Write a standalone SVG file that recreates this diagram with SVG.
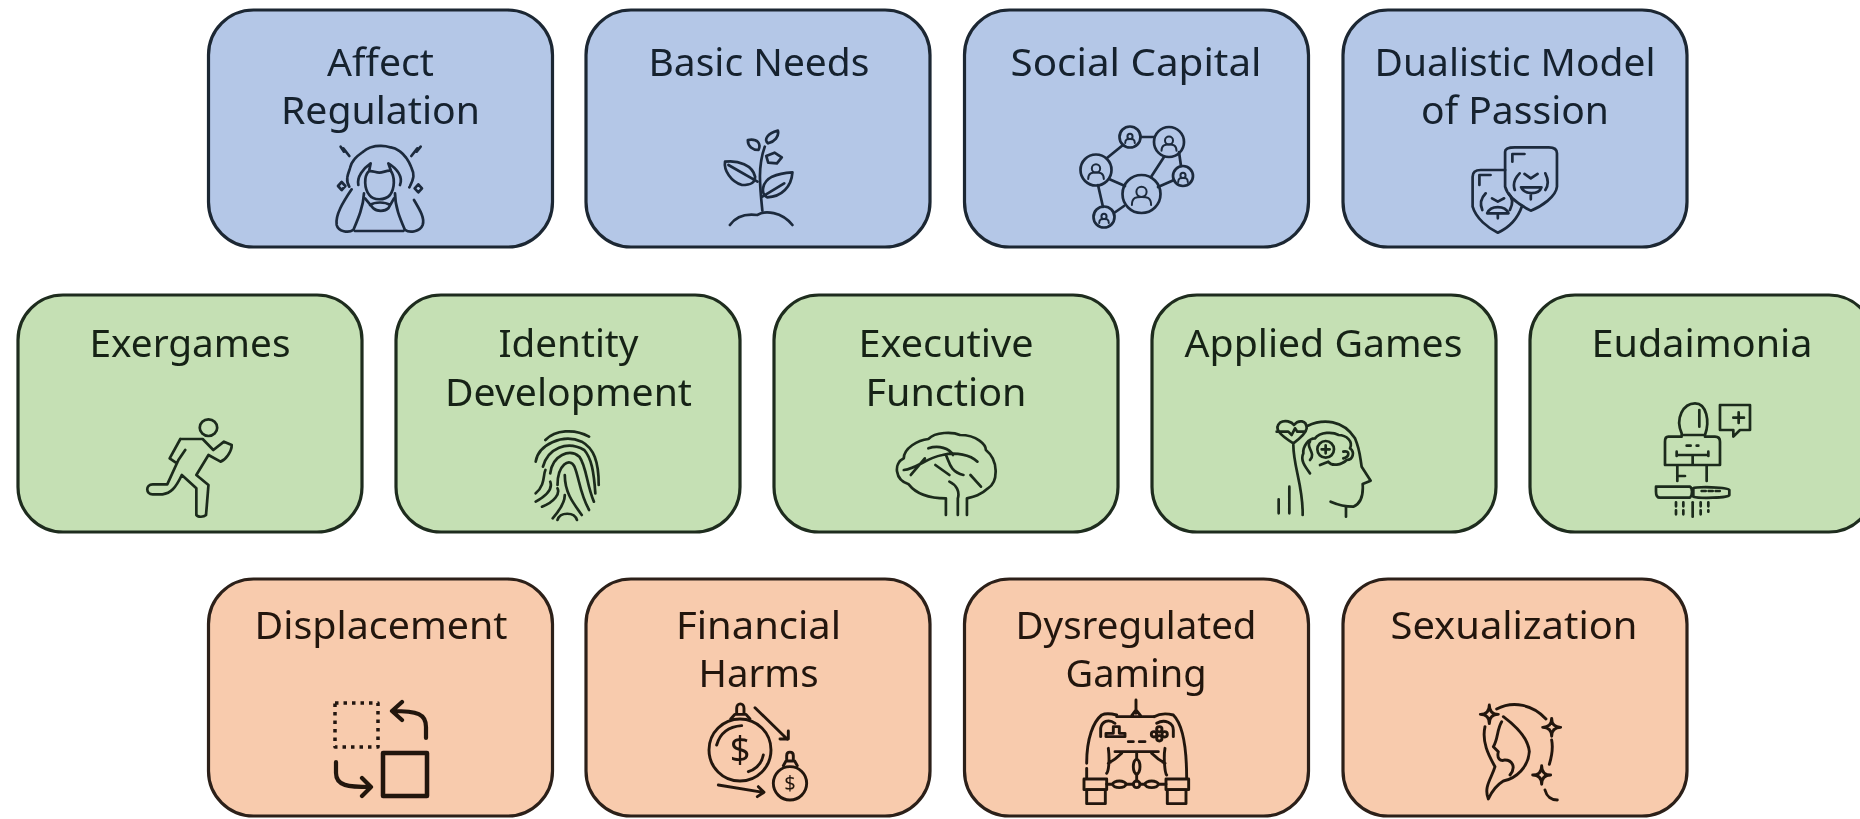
<svg xmlns="http://www.w3.org/2000/svg" width="1860" height="819" viewBox="0 0 1860 819">
<style>
.box{stroke-width:3.200}
.blue .box{fill:#b4c7e7;stroke:#1c2733}
.green .box{fill:#c5e0b4;stroke:#1e2c1e}
.orange .box{fill:#f8cbad;stroke:#2c2019}
text{font-family:"Noto Sans","Open Sans","Liberation Sans",sans-serif;font-size:39px;text-anchor:middle;filter:url(#txt);lengthAdjust:spacingAndGlyphs}
.blue text{fill:#14202f}
.green text{fill:#152315}
.orange text{fill:#21140d}
.i{fill:none;stroke-width:2.700;stroke-linecap:round;stroke-linejoin:round;filter:url(#soft)}
.i *{vector-effect:non-scaling-stroke}
.blue .i{stroke:#1c2a3d}
.green .i{stroke:#1b2c1b}
.orange .i{stroke:#24160e;stroke-width:2.900}
.i text{stroke:none;filter:none}
.blue .i text{fill:#1c2a3d}
.orange .i text{fill:#24160e}
</style>
<defs>
<filter id="soft" x="-10%" y="-10%" width="120%" height="120%"><feGaussianBlur stdDeviation="0.55"/></filter>
<filter id="txt" x="-5%" y="-10%" width="110%" height="120%"><feGaussianBlur stdDeviation="0.35"/></filter>
<g id="p"><circle cx="0" cy="-0.2" r="0.32" vector-effect="non-scaling-stroke" fill="none" stroke-width="2"/><path d="M-0.6 0.62C-0.6 0.1-0.25 0.12 0 0.12C0.25 0.12 0.6 0.1 0.6 0.62" vector-effect="non-scaling-stroke" fill="none" stroke-width="2"/></g>
</defs>
<rect width="1860" height="819" fill="#fff"/>

<g id="affect-regulation" class="blue">
<rect class="box" x="208.500" y="10" width="344" height="237" rx="45"/>
<text x="380.500" y="76" textLength="107" lengthAdjust="spacingAndGlyphs">Affect</text><text x="380.500" y="124" textLength="199" lengthAdjust="spacingAndGlyphs">Regulation</text>
<g class="i" transform="translate(320,130) scale(.3333)">
<path stroke-dasharray="9 1" d="M88 170C75 150 85 130 90 115C95 90 115 75 130 65C150 45 190 45 210 52C240 55 265 85 275 115C285 135 280 150 268 172"/>
<path d="M145 125C155 120 165 128 178 128C190 128 200 120 212 122C225 140 225 175 210 195C195 212 160 212 148 195C132 175 132 140 145 125Z"/>
<path d="M115 165C110 140 130 115 152 100L148 120M240 165C250 140 230 115 205 100L212 120"/>
<path d="M95 178C70 215 45 255 50 285C55 305 85 310 100 300C115 265 130 230 132 190M282 210C300 240 315 265 308 285C300 305 270 310 255 300C240 265 225 230 225 190M105 303H250"/>
<path d="M135 205L160 235C170 245 195 245 205 235L222 205M150 225C165 215 195 215 210 225"/>
<path d="M62 50L72 65L70 55L88 78M302 50L290 65L292 55L274 78"/>
<path d="M65 156L76 168L65 180L54 168ZM295 163L306 175L295 187L284 175Z"/>
</g>
</g>

<g id="basic-needs" class="blue">
<rect class="box" x="586" y="10" width="344" height="237" rx="45"/>
<text x="759" y="76" textLength="221" lengthAdjust="spacingAndGlyphs">Basic Needs</text>
<g class="i" transform="translate(200,0) scale(.4848,.3333)">
<path d="M1160 632C1155 560 1150 500 1165 440"/>
<path d="M1083 485C1110 480 1140 495 1145 530C1145 550 1135 555 1118 555C1095 545 1080 510 1083 485ZM1090 495L1150 545"/>
<path d="M1222 517C1220 560 1200 590 1170 592C1155 580 1160 545 1180 530C1195 520 1210 518 1222 517ZM1160 590L1205 550"/>
<path d="M1192 392C1195 410 1185 425 1172 430C1162 420 1170 400 1192 392ZM1130 420C1150 415 1158 430 1152 450C1140 450 1130 440 1130 420ZM1168 468L1185 458L1200 472L1190 490L1172 488Z"/>
<path d="M1093 675C1105 650 1125 640 1150 645C1165 630 1200 635 1222 675"/>
</g>
</g>

<g id="social-capital" class="blue">
<rect class="box" x="964.500" y="10" width="344" height="237" rx="45"/>
<text x="1136" y="76" textLength="251" lengthAdjust="spacingAndGlyphs">Social Capital</text>
<g class="i">
<path d="M1140.500 137H1154M1123 145L1107 158M1164 157L1151 177M1179 152L1181 166M1109 179L1125 186M1098 185L1103 207M1114 213L1124 206M1158 187L1174 180"/>
<circle cx="1130" cy="137" r="10.500"/><circle cx="1169" cy="142" r="15"/><circle cx="1096" cy="170" r="15.500"/><circle cx="1141.500" cy="194" r="19"/><circle cx="1183" cy="176" r="10"/><circle cx="1104" cy="217" r="10.500"/>
<use href="#p" transform="translate(1130,138) scale(8)"/><use href="#p" transform="translate(1169,143) scale(12.500)"/><use href="#p" transform="translate(1096,171) scale(13)"/><use href="#p" transform="translate(1141.500,195) scale(16)"/><use href="#p" transform="translate(1183,177) scale(8)"/><use href="#p" transform="translate(1104,218) scale(8)"/>
</g>
</g>

<g id="dualistic-model" class="blue">
<rect class="box" x="1343" y="10" width="344" height="237" rx="45"/>
<text x="1515" y="76" textLength="281" lengthAdjust="spacingAndGlyphs">Dualistic Model</text><text x="1515" y="124" textLength="188" lengthAdjust="spacingAndGlyphs">of Passion</text>
<g class="i" transform="translate(950,0) scale(.4848,.3333)">
<path d="M1145 455C1145 445 1155 442 1165 442H1235C1248 442 1252 450 1252 460V560C1250 590 1220 620 1198 632C1175 615 1150 590 1145 560Z"/>
<path d="M1145 510H1095C1082 510 1078 520 1078 530V620C1085 655 1110 685 1130 698C1150 685 1170 660 1180 618"/>
<path d="M1160 485V462H1185M1092 555V525H1115"/>
<path d="M1175 520C1165 535 1160 550 1165 570M1228 520C1235 540 1235 555 1228 570M1178 562H1220C1215 585 1185 585 1178 562ZM1198 585V598M1185 522L1198 535L1212 522"/>
<path d="M1105 580C1095 595 1092 610 1098 630M1152 580C1162 595 1162 610 1155 630M1108 640C1115 615 1145 615 1152 640ZM1118 595L1130 605L1143 595M1130 640V655"/>
</g>
</g>

<g id="exergames" class="green">
<rect class="box" x="18" y="295" width="344" height="237" rx="45"/>
<text x="190" y="357" textLength="201" lengthAdjust="spacingAndGlyphs">Exergames</text>
<g class="i" transform="translate(0,285) scale(.4848,.3333)">
<ellipse cx="430" cy="428" rx="18" ry="25"/>
<path d="M372 462H418L440 495L462 470L478 480C478 500 465 525 455 530L430 510L405 570L430 600L425 690C420 697 408 697 405 690L405 610L375 570C362 610 352 625 335 628H315C300 628 300 598 315 598H345L368 525L382 495M372 462L350 520L365 535"/>
</g>
</g>

<g id="identity-development" class="green">
<rect class="box" x="396" y="295" width="344" height="237" rx="45"/>
<text x="568.500" y="357" textLength="140" lengthAdjust="spacingAndGlyphs">Identity</text><text x="568.500" y="406" textLength="247" lengthAdjust="spacingAndGlyphs">Development</text>
<g class="i" transform="translate(0,285) scale(.4848,.3333)">
<path d="M1125 465C1145 435 1185 430 1215 455M1105 530C1110 480 1160 445 1200 470C1225 490 1235 530 1235 600M1120 545C1130 490 1170 465 1205 495C1220 520 1225 560 1228 625M1135 565C1140 510 1175 490 1195 515C1210 545 1210 600 1225 650M1150 600C1150 540 1175 515 1185 545C1195 580 1195 620 1215 675M1165 570C1165 620 1180 650 1200 690M1105 625C1125 600 1120 570 1125 555M1105 650C1130 630 1140 610 1135 590M1118 665C1145 650 1155 625 1150 610M1140 700C1155 675 1165 650 1165 630M1150 705C1155 680 1185 680 1190 705"/>
</g>
</g>

<g id="executive-function" class="green">
<rect class="box" x="774" y="295" width="344" height="237" rx="45"/>
<text x="946" y="357" textLength="175" lengthAdjust="spacingAndGlyphs">Executive</text><text x="946" y="406" textLength="161" lengthAdjust="spacingAndGlyphs">Function</text>
<g class="i" transform="translate(760,285) scale(.7015,.3333)">
<path d="M265 690V640C240 640 222 625 212 598C192 585 190 535 205 520C205 490 225 465 240 462C250 440 275 440 285 450C310 450 322 480 322 495C340 525 340 590 325 610C315 630 305 635 295 640V690M282 690V640C285 620 280 600 270 590"/>
<path d="M205 555C225 550 235 520 260 510C280 500 300 510 310 530M215 570L235 520M250 540L270 570M265 510C270 530 270 560 290 570M300 570L315 605M240 490C255 480 270 490 275 510"/>
</g>
</g>

<g id="applied-games" class="green">
<rect class="box" x="1152" y="295" width="344" height="237" rx="45"/>
<text x="1323.500" y="357" textLength="278" lengthAdjust="spacingAndGlyphs">Applied Games</text>
<g class="i" transform="translate(1260,410) scale(.3333)">
<path d="M142 48C190 25 250 30 285 85C300 120 300 140 305 170L332 212L308 222C310 250 305 280 280 290C255 290 235 285 212 275M258 290V320M100 105C100 170 130 230 128 315M56 268V310M88 230V310"/>
<path d="M100 100C60 75 40 55 60 38C75 28 95 35 102 45C115 28 140 30 140 55C138 70 120 85 100 100ZM50 65H85L95 75L105 55L112 65H135"/>
<path d="M150 190C135 170 120 150 130 130C128 110 145 85 165 85C180 65 220 65 235 75C260 75 280 95 270 115C285 125 280 150 260 150C245 165 215 170 205 155L180 165"/>
<circle cx="197" cy="118" r="25"/><path d="M185 118H209M197 106V130M150 95C135 110 170 130 150 150M250 125C270 120 270 140 250 145"/>
</g>
</g>

<g id="eudaimonia" class="green">
<rect class="box" x="1530" y="295" width="344" height="237" rx="45"/>
<text x="1702" y="357" textLength="221" lengthAdjust="spacingAndGlyphs">Eudaimonia</text>
<g class="i" transform="translate(1640,395) scale(.3333)">
<path d="M125 115C105 70 130 25 165 25C200 25 210 80 195 120H125ZM178 45V95"/>
<path d="M125 125H85C78 125 75 130 75 140V210H240V140C240 130 235 125 225 125H195M110 180H205M110 170V183M205 170V183M158 183V210"/>
<path stroke-dasharray="4 6" d="M140 152H175"/>
<path d="M112 212V258M112 243H135M200 212V258"/>
<path d="M48 275H150C158 280 158 300 150 308H60C50 308 48 300 48 290ZM160 280C165 275 265 275 268 285V300C265 310 175 310 160 305Z"/>
<path stroke-dasharray="4 3" d="M185 288H245"/>
<path stroke-dasharray="4 4" d="M108 322V370M130 322V370M182 322V360M205 322V350"/><path d="M158 322V365"/>
<path d="M240 30H330V105H300L280 125V105H240ZM280 68H312M296 52V84"/>
</g>
</g>

<g id="displacement" class="orange">
<rect class="box" x="208.500" y="579" width="344" height="237" rx="45"/>
<text x="381" y="639" textLength="253" lengthAdjust="spacingAndGlyphs">Displacement</text>
<g class="i">
<rect x="335" y="703" width="43" height="44" style="stroke-width:3.500;stroke-dasharray:3.500 5;stroke-linecap:butt"/>
<rect x="383" y="753" width="44" height="43" style="stroke-width:4.500"/>
<path style="stroke-width:4.200" d="M426 738V727C426 714 418 711 392 711M402 702L392 711L402 720M336 762V773C336 786 348 787 371 787M362 778L371 787L362 796"/>
</g>
</g>

<g id="financial-harms" class="orange">
<rect class="box" x="586" y="579" width="344" height="237" rx="45"/>
<text x="758.500" y="639" textLength="165" lengthAdjust="spacingAndGlyphs">Financial</text><text x="758.500" y="687" textLength="120" lengthAdjust="spacingAndGlyphs">Harms</text>
<g class="i">
<g transform="translate(700,695) scale(.3333)">
<circle cx="120" cy="165" r="93"/>
<path d="M50 150C60 115 85 95 125 92M145 230C170 222 185 205 190 180"/>
<path d="M92 72L105 58H138L150 72M110 55V40C110 22 132 22 132 40V55"/>
<circle cx="270" cy="265" r="50"/>
<path d="M250 212L258 198H284L292 212M260 195V182C260 168 280 168 280 182V195"/>
<path d="M165 38L262 133M240 132H265V108M55 270L190 292M175 275L192 292L172 305"/>
</g>
<text x="740" y="762" style="font-size:36px">$</text>
<text x="790" y="790" style="font-size:20px">$</text>
</g>
</g>

<g id="dysregulated-gaming" class="orange">
<rect class="box" x="964.500" y="579" width="344" height="237" rx="45"/>
<text x="1136" y="639" textLength="241" lengthAdjust="spacingAndGlyphs">Dysregulated</text><text x="1136" y="687" textLength="141" lengthAdjust="spacingAndGlyphs">Gaming</text>
<g class="i" transform="translate(1080,695) scale(.3333)">
<path d="M168 15V55M155 62L168 45L182 62M110 65H222"/>
<path d="M110 60C90 55 75 55 65 60C40 80 20 130 20 205M222 65C240 55 260 55 280 60C305 85 320 140 320 250M20 220V250"/>
<path d="M105 85C85 70 65 80 62 100V125M230 85C255 70 280 85 280 105V125"/>
<path d="M78 115H100V95H118V115H135V125H78Z"/>
<circle cx="238" cy="103" r="8"/><circle cx="222" cy="118" r="8"/><circle cx="254" cy="118" r="8"/><circle cx="238" cy="130" r="8"/>
<path d="M145 140H160M178 140H195M105 170H235M125 175C110 190 95 200 85 205M85 160C90 200 85 230 80 235M215 175C230 190 245 200 255 205M255 160C250 190 255 235 260 240M170 175V193M170 237V258"/>
<ellipse cx="170" cy="215" rx="10" ry="22"/>
<ellipse cx="118" cy="268" rx="20" ry="10"/><circle cx="170" cy="268" r="10"/><ellipse cx="215" cy="268" rx="20" ry="10"/>
<path d="M80 268H98M138 268H160M180 268H195M235 268H258"/>
<rect x="12" y="252" width="68" height="32"/><rect x="20" y="284" width="56" height="42"/>
<rect x="258" y="252" width="68" height="32"/><rect x="262" y="284" width="56" height="42"/>
</g>
</g>

<g id="sexualization" class="orange">
<rect class="box" x="1343" y="579" width="344" height="237" rx="45"/>
<text x="1514" y="639" textLength="247" lengthAdjust="spacingAndGlyphs">Sexualization</text>
<g class="i" transform="translate(1460,695) scale(.3333)">
<path d="M88 30Q88 58 115 58Q88 58 88 86Q88 58 61 58Q88 58 88 30ZM275 70Q275 97 302 97Q275 97 275 124Q275 97 248 97Q275 97 275 70ZM245 212Q245 240 272 240Q245 240 245 268Q245 240 218 240Q245 240 245 212Z"/>
<path d="M110 42C160 15 220 30 258 72M275 135C280 160 275 185 268 208M255 285C260 305 275 315 292 315"/>
<path d="M75 95C65 140 85 180 105 215C95 250 70 275 85 312C95 290 110 270 130 258C170 250 205 215 208 170C205 130 170 95 130 65"/>
<path d="M125 80C110 105 115 130 100 155L115 170C110 190 120 200 135 195C155 195 170 215 150 240"/>
</g>
</g>
</svg>
